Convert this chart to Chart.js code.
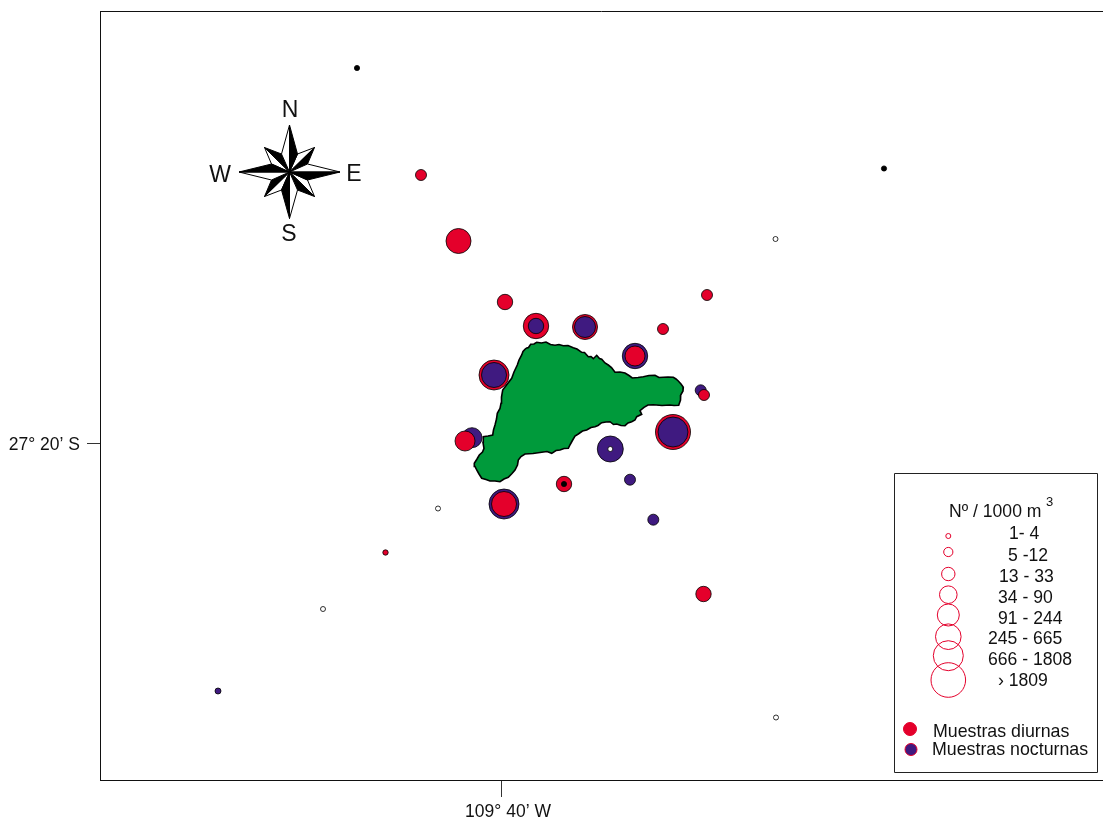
<!DOCTYPE html>
<html>
<head>
<meta charset="utf-8">
<title>Muestras diurnas y nocturnas</title>
<script src="https://cdn.jsdelivr.net/npm/chart.js@4/dist/chart.umd.min.js"></script>
<style>
body { margin: 0; background: #fff; }
canvas { display: block; }
</style>
</head>
<body>
<canvas id="myChart" width="1103" height="818"></canvas>
<script>
// map units, offset from the two labelled ticks (109 40 W / 27 20 S)
var lonTickLabel = '109\u00b0 40\u2019 W';
var latTickLabel = '27\u00b0 20\u2019 S';

// day samples that sit under a night sample
var dayBackX = [3.4, 8.3, -0.8, 17.1];
var dayBackY = [11.7, 11.6, 6.8, 1.1];
var dayBackR = [12.7, 12.5, 15, 17.5];

var nightX = [3.4, 8.3, 13.3, -0.8, 19.87, 17.1, -3.0, 10.83, 12.8, 15.13, 0.2, -28.4];
var nightY = [11.7, 11.6, 8.7, 6.8, 5.27, 1.1, 0.53, -0.6, -3.67, -7.67, -6.1, -24.8];
var nightR = [7.7, 10.5, 12.7, 12.5, 5.5, 15, 10, 13, 5.5, 5.5, 15, 3];

// day samples drawn over the night ones
var dayX = [0.3, 16.1, 20.5, 13.3, 20.2, -3.7, 6.2, 0.2, -8.1, -4.35, -11.65, 20.15];
var dayY = [14.1, 11.4, 14.8, 8.7, 4.8, 0.2, -4.1, -6.1, 26.8, 20.2, -10.95, -15.1];
var dayR = [7.7, 5.5, 5.5, 10, 5.5, 10, 7.7, 12.5, 5.5, 12.5, 2.7, 7.7];

// stations with no catch
var emptyDayX = [-14.5, 38.2, 6.2];
var emptyDayY = [37.5, 27.45, -4.1];
var emptyNightX = [10.83, 27.35, -6.4, -17.9, 27.4];
var emptyNightY = [-0.6, 20.4, -6.55, -16.6, -27.45];

var islandX = [2.4, 2.65, 2.87, 3.2, 3.47, 3.95, 4.4, 4.85, 5.3, 5.7, 6.13, 6.6, 7.13, 7.5, 7.97, 8.25, 8.63, 8.9, 9.13, 9.47, 9.75, 9.97, 10.3, 10.63, 10.95, 11.3, 11.8, 12.3, 12.7, 13.03, 13.6, 14.13, 14.7, 15.3, 15.7, 16.13, 16.6, 17.13, 17.4, 17.63, 17.9, 18.13, 18.1, 17.87, 17.85, 17.67, 17.2, 16.8, 16.0, 15.13, 14.6, 14.2, 13.8, 13.97, 13.47, 13.3, 12.97, 12.6, 12.3, 11.9, 11.47, 11.15, 10.8, 10.4, 9.97, 9.6, 9.3, 8.9, 8.47, 8.05, 7.63, 7.3, 7.07, 6.85, 6.63, 6.2, 5.8, 5.4, 4.97, 4.5, 3.97, 3.1, 2.3, 1.9, 1.63, 1.55, 1.3, 1.0, 0.63, 0.2, -0.2, -0.7, -1.2, -1.6, -2.03, -2.3, -2.53, -2.7, -2.77, -2.5, -2.27, -1.95, -1.8, -1.9, -1.87, -1.4, -0.93, -0.85, -0.7, -0.55, -0.47, -0.2, -0.1, -0.05, 0.07, 0.45, 0.97, 1.2, 1.53, 1.7, 1.97, 2.1, 2.4];
var islandY = [9.47, 9.55, 9.87, 9.9, 10.07, 10.0, 10.1, 9.85, 9.77, 9.85, 9.73, 9.75, 9.53, 9.4, 9.07, 9.05, 8.63, 8.65, 8.43, 8.77, 8.45, 8.37, 8.0, 7.8, 7.55, 7.07, 7.1, 7.0, 6.75, 6.5, 6.55, 6.63, 6.75, 6.77, 6.55, 6.57, 6.6, 6.57, 6.4, 6.2, 5.9, 5.57, 5.2, 4.8, 4.3, 3.77, 3.75, 3.8, 3.75, 3.83, 3.8, 3.57, 3.23, 2.87, 2.63, 2.3, 2.13, 2.0, 1.73, 1.75, 1.9, 1.85, 2.13, 2.1, 2.03, 1.75, 1.63, 1.55, 1.3, 1.2, 0.9, 0.7, 0.3, -0.1, -0.53, -0.55, -0.7, -0.75, -1.03, -0.85, -0.93, -1.05, -1.1, -1.35, -1.7, -2.2, -2.7, -3.05, -3.43, -3.6, -3.87, -3.8, -3.8, -3.65, -3.53, -3.1, -2.7, -2.35, -2.03, -1.6, -1.2, -0.9, -0.53, 0.05, 0.63, 0.7, 0.8, 1.3, 1.8, 2.4, 2.97, 3.45, 3.97, 4.6, 5.3, 5.8, 6.47, 7.1, 7.8, 8.3, 8.8, 9.15, 9.47];

var legendTitle = 'N\u00ba / 1000 m';
var classLabels = ['1- 4', '5 -12', '13 - 33', '34 - 90', '91 - 244', '245 - 665', '666 - 1808', '\u203a 1809'];
var classRadius = [2.5, 4.6, 6.7, 8.8, 11, 12.8, 15, 17.3];

var RED = '#e4002b';
var PURPLE = '#3f1a80';
var GREEN = '#009a3b';
var FONT = '"Liberation Sans", Arial, sans-serif';

// the plot frame must reach the window edge, so no room is kept for big bubbles
Chart.registry.getController('bubble').prototype.getMaxOverflow = function () { return 0; };
Chart.registry.getController('line').prototype.getMaxOverflow = function () { return 0; };

function points(xs, ys, rs, fixedR) {
    return xs.map(function (x, i) {
        return { x: x, y: ys[i], r: rs ? rs[i] : fixedR };
    });
}

function bubbles(label, data, color, order) {
    return {
        label: label,
        data: data,
        backgroundColor: color,
        borderColor: '#000',
        borderWidth: 0.8,
        order: order
    };
}

function polygon(ctx, cx, cy, pts, fill) {
    ctx.beginPath();
    pts.forEach(function (p, i) {
        if (i == 0) ctx.moveTo(cx + p[0], cy + p[1]);
        else ctx.lineTo(cx + p[0], cy + p[1]);
    });
    ctx.closePath();
    ctx.fillStyle = fill;
    ctx.fill();
    ctx.stroke();
}

function drawText(ctx, text, x, y, size, align) {
    ctx.font = size + 'px ' + FONT;
    ctx.textAlign = align || 'left';
    ctx.textBaseline = 'alphabetic';
    ctx.fillStyle = '#111';
    ctx.fillText(text, x, y);
}

function drawCompass(ctx) {
    var cx = 289.5, cy = 172;
    ctx.strokeStyle = '#000';
    ctx.lineWidth = 1;
    ctx.lineJoin = 'round';
    // diagonal arms first, main arms over them
    var arms = [
        [[-25, -24.5], [-8, -18], [-18, -8]],
        [[25, -24.5], [18, -8], [8, -18]],
        [[25, 24.5], [8, 18], [18, 8]],
        [[-25, 24.5], [-18, 8], [-8, 18]],
        [[0, -47], [8, -18], [-8, -18]],
        [[50.5, 0], [18, 8], [18, -8]],
        [[0, 46.5], [-8, 18], [8, 18]],
        [[-50.5, 0], [-18, -8], [-18, 8]]
    ];
    arms.forEach(function (a) {
        polygon(ctx, cx, cy, [[0, 0], a[0], a[2]], '#fff');
        polygon(ctx, cx, cy, [[0, 0], a[0], a[1]], '#000');
    });
    drawText(ctx, 'N', 290, 117, 23, 'center');
    drawText(ctx, 'S', 289, 241, 23, 'center');
    drawText(ctx, 'W', 220, 182, 23, 'center');
    drawText(ctx, 'E', 354, 181, 23, 'center');
}

function drawLegend(ctx) {
    ctx.strokeStyle = '#222';
    ctx.lineWidth = 1;
    ctx.fillStyle = '#fff';
    ctx.fillRect(894, 473, 203, 300);
    ctx.strokeRect(894.5, 473.5, 203, 299);

    drawText(ctx, legendTitle, 949, 517, 17.6);
    drawText(ctx, '3', 1046, 506, 13);

    var circleY = [536, 552, 574, 594.7, 615, 636.7, 655.7, 680];
    var textX = [1009, 1008, 999, 998, 998, 988, 988, 998];
    var textY = [539, 561, 582, 603, 624, 644, 665, 686];
    classLabels.forEach(function (label, i) {
        ctx.beginPath();
        ctx.arc(948.3, circleY[i], classRadius[i], 0, Math.PI * 2);
        ctx.strokeStyle = RED;
        ctx.stroke();
        drawText(ctx, label, textX[i], textY[i], 17.6);
    });

    ctx.beginPath();
    ctx.arc(910, 729, 6.5, 0, Math.PI * 2);
    ctx.fillStyle = RED;
    ctx.strokeStyle = RED;
    ctx.fill();
    ctx.stroke();
    ctx.beginPath();
    ctx.arc(911, 749.5, 6, 0, Math.PI * 2);
    ctx.fillStyle = PURPLE;
    ctx.fill();
    ctx.stroke();
    drawText(ctx, 'Muestras diurnas', 933, 737, 17.8);
    drawText(ctx, 'Muestras nocturnas', 932, 755, 17.8);
}

var decorations = {
    id: 'decorations',
    afterDraw: function (chart) {
        var ctx = chart.ctx, a = chart.chartArea;
        ctx.save();
        ctx.strokeStyle = '#111';
        ctx.lineWidth = 1;
        ctx.beginPath();
        ctx.moveTo(a.left, a.top + 0.5);
        ctx.lineTo(a.right, a.top + 0.5);
        ctx.stroke();
        drawCompass(ctx);
        drawLegend(ctx);
        ctx.restore();
    }
};

function fixSide(s) {
    s.paddingLeft = 0;
    s.paddingRight = 0;
    s.paddingTop = 0;
    s.paddingBottom = 0;
}

var ctx = document.getElementById('myChart').getContext('2d');
var chart = new Chart(ctx, {
    type: 'bubble',
    data: {
        datasets: [
            bubbles('Sin captura diurna', points(emptyDayX, emptyDayY, null, 2.6), '#000', 1),
            bubbles('Sin captura nocturna', points(emptyNightX, emptyNightY, null, 2.5), '#fff', 1),
            bubbles('Muestras diurnas', points(dayX, dayY, dayR), RED, 2),
            bubbles('Muestras nocturnas', points(nightX, nightY, nightR), PURPLE, 3),
            bubbles('Muestras diurnas', points(dayBackX, dayBackY, dayBackR), RED, 4),
            {
                type: 'line',
                label: 'Isla',
                data: points(islandX, islandY, null, 0),
                borderColor: '#000',
                borderWidth: 1.6,
                backgroundColor: GREEN,
                fill: 'shape',
                tension: 0,
                pointRadius: 0,
                order: 5
            }
        ]
    },
    options: {
        responsive: false,
        animation: false,
        events: [],
        layout: { padding: { top: 11, right: 0, left: 0, bottom: 0 } },
        plugins: { legend: { display: false }, tooltip: { enabled: false } },
        scales: {
            x: {
                type: 'linear',
                min: -40.2,
                max: 60.1,
                afterFit: function (s) { s.height = 38; fixSide(s); },
                afterBuildTicks: function (s) { s.ticks = [{ value: 0 }]; },
                grid: { drawOnChartArea: false, tickLength: 17, tickColor: '#333' },
                border: { color: '#111' },
                ticks: {
                    padding: 5,
                    labelOffset: 6,
                    maxRotation: 0,
                    color: '#111',
                    font: { family: FONT, size: 17.5 },
                    callback: function () { return lonTickLabel; }
                }
            },
            y: {
                type: 'linear',
                min: -33.7,
                max: 43.2,
                afterFit: function (s) { s.width = 100; fixSide(s); },
                afterBuildTicks: function (s) { s.ticks = [{ value: 0 }]; },
                grid: { drawOnChartArea: false, tickLength: 13, tickColor: '#333' },
                border: { color: '#111' },
                ticks: {
                    padding: 7,
                    labelOffset: 2,
                    color: '#111',
                    font: { family: FONT, size: 17.5 },
                    callback: function () { return latTickLabel; }
                }
            }
        }
    },
    plugins: [decorations]
});
</script>
</body>
</html>
